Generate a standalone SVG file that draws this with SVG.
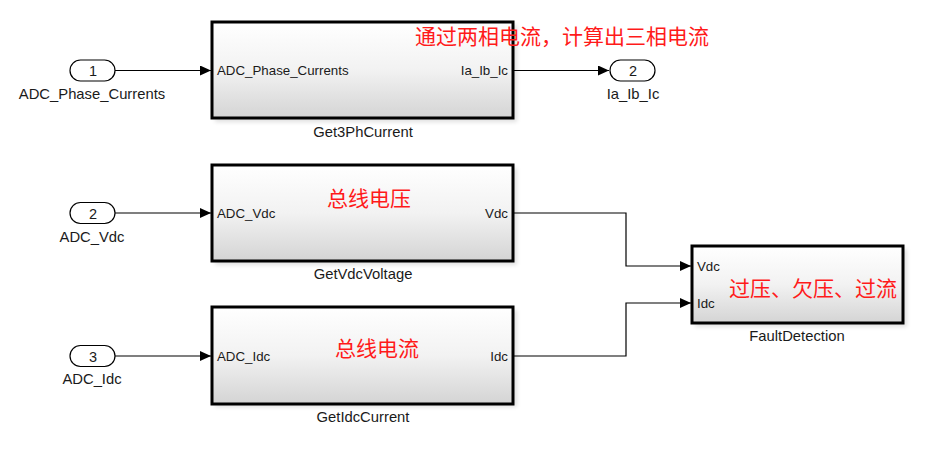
<svg xmlns="http://www.w3.org/2000/svg" width="925" height="467" viewBox="0 0 925 467">
<style>
.blk{fill:url(#g);stroke:#000;stroke-width:3}
.sh{fill:#000;opacity:0.12}
.port{fill:#fff;stroke:#000;stroke-width:1.2}
.t{font-family:"Liberation Sans",Arial,sans-serif;fill:#1a1a1a}
.pl{font-size:13.3px}
.bl{font-size:14.8px;text-anchor:middle}
.num{font-size:14.5px;text-anchor:middle}
.cn{font-family:"Noto Sans CJK SC",sans-serif;font-size:21px;fill:#ff1a1a}
.w{fill:none;stroke:#000;stroke-width:1.2}
</style>
<defs>
<linearGradient id="g" x1="0" y1="0" x2="0" y2="1">
<stop offset="0" stop-color="#ffffff"/>
<stop offset="0.5" stop-color="#f2f2f2"/>
<stop offset="1" stop-color="#d4d4d4"/>
</linearGradient>
<filter id="blur" x="-10%" y="-10%" width="120%" height="130%"><feGaussianBlur stdDeviation="2"/></filter>
<marker id="a" markerWidth="12" markerHeight="10" refX="11" refY="5" orient="auto" markerUnits="userSpaceOnUse"><path d="M0,0 L11,5 L0,10 Z" fill="#000"/></marker>
</defs>
<rect width="925" height="467" fill="#fff"/>
<g id="connectors">
<path class="w" d="M115,70.5 H211" marker-end="url(#a)"/>
<path class="w" d="M513,70.5 H609" marker-end="url(#a)"/>
<path class="w" d="M115,213 H211" marker-end="url(#a)"/>
<path class="w" d="M115,356 H211" marker-end="url(#a)"/>
<path class="w" d="M513,213 H626 V266 H691" marker-end="url(#a)"/>
<path class="w" d="M513,356 H626 V303 H691" marker-end="url(#a)"/>
</g>
<g id="in1">
<rect class="port" x="70" y="60" width="45" height="21" rx="10.5"/>
<text class="t num" x="93" y="76">1</text>
<text class="t bl" x="92" y="99">ADC_Phase_Currents</text>
</g>
<g id="in2">
<rect class="port" x="70" y="202.5" width="45" height="21" rx="10.5"/>
<text class="t num" x="93" y="218.5">2</text>
<text class="t bl" x="92" y="242">ADC_Vdc</text>
</g>
<g id="in3">
<rect class="port" x="70" y="345.5" width="45" height="21" rx="10.5"/>
<text class="t num" x="93" y="361.5">3</text>
<text class="t bl" x="92" y="384">ADC_Idc</text>
</g>
<g id="out2">
<rect class="port" x="610" y="60" width="45" height="21" rx="10.5"/>
<text class="t num" x="633" y="76">2</text>
<text class="t bl" x="633" y="99">Ia_Ib_Ic</text>
</g>
<g id="Get3PhCurrent">
<rect class="sh" x="215" y="25" width="302" height="97" filter="url(#blur)"/>
<rect class="blk" x="212" y="22" width="301" height="96"/>
<text class="t pl" x="217" y="75">ADC_Phase_Currents</text>
<text class="t pl" x="508" y="75" text-anchor="end">Ia_Ib_Ic</text>
<text class="cn" x="415" y="44">通过两相电流，计算出三相电流</text>
<text class="t bl" x="363" y="137">Get3PhCurrent</text>
</g>
<g id="GetVdcVoltage">
<rect class="sh" x="215" y="168" width="302" height="97" filter="url(#blur)"/>
<rect class="blk" x="212" y="165" width="301" height="96"/>
<text class="t pl" x="217" y="218">ADC_Vdc</text>
<text class="t pl" x="508" y="218" text-anchor="end">Vdc</text>
<text class="cn" x="327" y="206">总线电压</text>
<text class="t bl" x="363" y="279">GetVdcVoltage</text>
</g>
<g id="GetIdcCurrent">
<rect class="sh" x="215" y="310" width="302" height="97" filter="url(#blur)"/>
<rect class="blk" x="212" y="307" width="301" height="97"/>
<text class="t pl" x="217" y="361">ADC_Idc</text>
<text class="t pl" x="508" y="361" text-anchor="end">Idc</text>
<text class="cn" x="335" y="356">总线电流</text>
<text class="t bl" x="363" y="422">GetIdcCurrent</text>
</g>
<g id="FaultDetection">
<rect class="sh" x="695" y="249" width="212" height="78" filter="url(#blur)"/>
<rect class="blk" x="692" y="246" width="211" height="77"/>
<text class="t pl" x="697" y="271">Vdc</text>
<text class="t pl" x="697" y="308">Idc</text>
<text class="cn" x="729" y="296">过压、欠压、过流</text>
<text class="t bl" x="797" y="341">FaultDetection</text>
</g>
</svg>
